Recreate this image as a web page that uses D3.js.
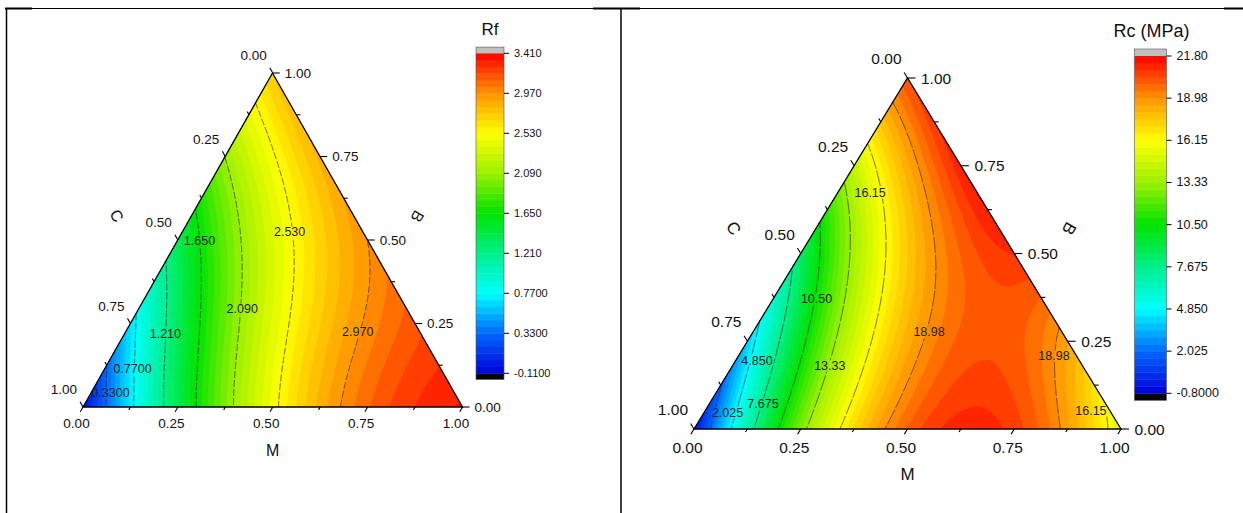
<!DOCTYPE html>
<html>
<head>
<meta charset="utf-8">
<script src="https://cdn.jsdelivr.net/npm/d3@7"></script>
<style>
  body { margin: 0; background: #fff; }
  text { font-family: Arial, "Liberation Sans", sans-serif; fill: #111; }
</style>
</head>
<body>
<svg id="chart" width="1243" height="513"></svg>
<script>
// ---------------- data ----------------
// Simplex lattice spacing used by the composition grids below.
const latticeStep = 0.125;
// Ternary axis ticks (major) and their labels.
const axisTicks = [0, 0.25, 0.5, 0.75, 1];
const axisTickLabels = ["0.00", "0.25", "0.50", "0.75", "1.00"];
const axisNames = { bottom: "M", right: "B", left: "C" };

// Rf over the lattice: row j is B = j*0.125, entry i is M = i*0.125 (C = 1 - M - B).
const rfRows = [
  [-0.05, 0.71, 1.41, 2.00, 2.48, 2.86, 3.10, 3.25, 3.35],
  [0.31, 1.06, 1.71, 2.21, 2.62, 2.97, 3.13, 3.27],
  [0.68, 1.38, 1.95, 2.38, 2.74, 3.01, 3.15],
  [1.05, 1.69, 2.15, 2.56, 2.86, 3.05],
  [1.39, 1.91, 2.36, 2.69, 2.97],
  [1.72, 2.22, 2.62, 2.91],
  [2.09, 2.51, 2.85],
  [2.46, 2.79],
  [2.75]
];
const rfLevels = [-0.11, 0.33, 0.77, 1.21, 1.65, 2.09, 2.53, 2.97, 3.41];
const rfLevelLabels = ["-0.1100", "0.3300", "0.7700", "1.210", "1.650", "2.090", "2.530", "2.970", "3.410"];
// Contour labels: [level index, M, B]
const rfContourLabels = [
  [1, 0.052, 0.041], [2, 0.074, 0.113], [3, 0.108, 0.218], [4, 0.058, 0.498],
  [5, 0.273, 0.293], [6, 0.283, 0.523], [7, 0.612, 0.224]
];

// Rc (MPa) over the same lattice.
const rcRows = [
  [-0.3, 6.88, 12.79, 17.25, 19.9, 21.0, 20.7, 18.6, 15.2],
  [1.9, 8.25, 13.84, 17.76, 19.8, 21.0, 19.4, 16.9],
  [3.91, 10.27, 14.86, 18.08, 20.2, 19.8, 18.6],
  [6.04, 11.54, 15.97, 18.98, 20.2, 19.9],
  [8.45, 13.8, 17.54, 20.3, 20.9],
  [11.3, 16.13, 19.05, 21.2],
  [14.52, 18.1, 21.3],
  [17.76, 20.8],
  [20.3]
];
const rcLevels = [-0.8, 2.025, 4.85, 7.675, 10.5, 13.325, 16.15, 18.975, 21.8];
const rcLevelLabels = ["-0.8000", "2.025", "4.850", "7.675", "10.50", "13.33", "16.15", "18.98", "21.80"];
const rcContourLabels = [
  [6, 0.076, 0.673], [4, 0.102, 0.37], [7, 0.413, 0.275], [7, 0.739, 0.208],
  [2, 0.05, 0.195], [5, 0.228, 0.18], [3, 0.126, 0.071], [1, 0.055, 0.047], [6, 0.904, 0.051]
];

// ---------------- helpers ----------------
const svg = d3.select("#chart");
svg.append("rect").attr("width", 1243).attr("height", 513).attr("fill", "#fff");

// Rainbow palette: blue -> cyan -> green -> yellow -> red
const palette = d3.scaleLinear()
  .domain([0, 0.125, 0.25, 0.375, 0.5, 0.625, 0.75, 0.875, 1])
  .range(["#0000d8", "#0068ff", "#00ffff", "#00f08c", "#00e400", "#9cf000", "#ffff00", "#ff9400", "#ff0000"])
  .interpolate(d3.interpolateRgb);

// Least-squares polynomial surface through the lattice values.
function fitSurface(rows, deg) {
  const terms = [];
  for (let p = 0; p <= deg; p++) for (let q = 0; p + q <= deg; q++) terms.push([p, q]);
  const n = terms.length;
  const A = Array.from({ length: n }, () => new Float64Array(n + 1));
  const sx = m => (m - 0.35) * 2, sy = b => (b - 0.35) * 2;
  const basis = (m, b) => {
    const x = sx(m), y = sy(b);
    return terms.map(([p, q]) => Math.pow(x, p) * Math.pow(y, q));
  };
  rows.forEach((row, j) => row.forEach((v, i) => {
    const phi = basis(i * latticeStep, j * latticeStep);
    for (let r = 0; r < n; r++) {
      for (let c = 0; c < n; c++) A[r][c] += phi[r] * phi[c];
      A[r][n] += phi[r] * v;
    }
  }));
  for (let r = 0; r < n; r++) A[r][r] += 1e-9;
  for (let col = 0; col < n; col++) {
    let piv = col;
    for (let r = col + 1; r < n; r++) if (Math.abs(A[r][col]) > Math.abs(A[piv][col])) piv = r;
    [A[col], A[piv]] = [A[piv], A[col]];
    for (let r = 0; r < n; r++) {
      if (r === col) continue;
      const f = A[r][col] / A[col][col];
      for (let c = col; c <= n; c++) A[r][c] -= f * A[col][c];
    }
  }
  const coef = A.map((row, i) => row[n] / row[i]);
  return (m, b) => {
    const x = sx(m), y = sy(b);
    let s = 0;
    for (let k = 0; k < n; k++) s += coef[k] * Math.pow(x, terms[k][0]) * Math.pow(y, terms[k][1]);
    return s;
  };
}

function drawPanel(cfg) {
  const { BL, BR, T } = cfg;
  const W = BR[0] - BL[0], H = BL[1] - T[1];
  // ternary (M, B) -> pixel
  const px = (m, b) => [BL[0] + W * (m + b / 2), BL[1] - H * b];
  const f = fitSurface(cfg.rows, cfg.degree);
  const levels = cfg.levels;
  const lo = levels[0], hi = levels[levels.length - 1];
  const nBands = 48;
  const bandT = d3.range(nBands + 1).map(k => lo + k * (hi - lo) / nBands);
  const bandColor = k => palette((k + 0.5) / nBands);

  const g = svg.append("g");
  const clipId = "clip-" + cfg.id;
  g.append("clipPath").attr("id", clipId)
    .append("polygon").attr("points", [BL, BR, T].map(p => p.join(",")).join(" "));

  // sample the surface on a pixel grid
  const x0 = Math.floor(BL[0]) - 2, y0 = Math.floor(T[1]) - 2;
  const nx = Math.ceil(BR[0]) + 3 - x0, ny = Math.ceil(BL[1]) + 3 - y0;
  const vals = new Float64Array(nx * ny);
  for (let j = 0; j < ny; j++) {
    const b = (BL[1] - (y0 + j + 0.5)) / H;
    for (let i = 0; i < nx; i++) {
      const u = (x0 + i + 0.5 - BL[0]) / W;
      vals[j * nx + i] = f(u - b / 2, b);
    }
  }
  const path = d3.geoPath(d3.geoIdentity().translate([x0, y0]));

  // filled bands
  const fills = g.append("g").attr("clip-path", `url(#${clipId})`);
  fills.append("rect").attr("x", x0).attr("y", y0).attr("width", nx).attr("height", ny).attr("fill", bandColor(0));
  const bands = d3.contours().size([nx, ny]).thresholds(bandT.slice(0, nBands))(vals);
  fills.selectAll("path.band").data(bands).join("path")
    .attr("class", "band").attr("d", path)
    .attr("fill", (d, k) => bandColor(k)).attr("stroke", (d, k) => bandColor(k)).attr("stroke-width", 0.3);

  // contour label anchors
  const labelPos = cfg.contourLabels.map(([li, m, b]) => ({ text: cfg.levelLabels[li], p: px(m, b) }));

  // mask that opens gaps in the lines under the labels
  const maskId = "mask-" + cfg.id;
  const mask = g.append("mask").attr("id", maskId);
  mask.append("rect").attr("x", 0).attr("y", 0).attr("width", 1243).attr("height", 513).attr("fill", "#fff");

  const lineLevels = levels.slice(1, -1);
  const lines = d3.contours().size([nx, ny]).thresholds(lineLevels)(vals);
  g.append("g").attr("clip-path", `url(#${clipId})`)
    .append("g").attr("mask", `url(#${maskId})`)
    .selectAll("path").data(lines).join("path")
    .attr("d", path).attr("fill", "none").attr("stroke", "#2a2a2a")
    .attr("stroke-width", 0.7).attr("stroke-dasharray", cfg.dash);

  const labG = g.append("g").attr("clip-path", `url(#${clipId})`);
  labelPos.forEach(l => {
    const t = labG.append("text").attr("x", l.p[0]).attr("y", l.p[1])
      .attr("text-anchor", "middle").attr("dominant-baseline", "central")
      .attr("font-size", cfg.contourFont).style("fill", "#222").text(l.text);
    const w = t.node().getComputedTextLength();
    mask.append("rect").attr("x", l.p[0] - w / 2 - 1).attr("y", l.p[1] - cfg.contourFont * 0.45)
      .attr("width", w + 2).attr("height", cfg.contourFont * 0.9).attr("fill", "#000");
  });

  // triangle frame
  g.append("polygon").attr("points", [BL, BR, T].map(p => p.join(",")).join(" "))
    .attr("fill", "none").attr("stroke", "#000").attr("stroke-width", 1.3).attr("stroke-linejoin", "miter");

  // ticks
  const norm = v => { const l = Math.hypot(v[0], v[1]); return [v[0] / l, v[1] / l]; };
  const dirBottom = norm([BL[0] - T[0], BL[1] - T[1]]);
  const dirLeft = norm([T[0] - BR[0], T[1] - BR[1]]);
  const dirRight = [1, 0];
  const minor = d3.range(0, 1.0001, latticeStep);
  const tk = g.append("g").attr("stroke", "#000").attr("stroke-width", 1.1);
  minor.forEach(t => {
    const isMajor = Math.abs(t * 4 - Math.round(t * 4)) < 1e-6;
    const axes = [
      { p: px(t, 0), d: dirBottom, len: isMajor ? cfg.tickLen[0] : cfg.tickLen[0] * 0.6 },
      { p: px(1 - t, t), d: dirRight, len: isMajor ? cfg.tickLen[1] : cfg.tickLen[1] * 0.55 },
      { p: px(0, 1 - t), d: dirLeft, len: isMajor ? cfg.tickLen[2] : cfg.tickLen[2] * 0.6 }
    ];
    axes.forEach(a => tk.append("line")
      .attr("x1", a.p[0]).attr("y1", a.p[1])
      .attr("x2", a.p[0] + a.d[0] * a.len).attr("y2", a.p[1] + a.d[1] * a.len));
  });

  const tl = g.append("g").attr("font-size", cfg.tickFont);
  axisTicks.forEach((t, i) => {
    const pb = px(t, 0);
    tl.append("text").attr("x", pb[0] - 6.5).attr("y", pb[1] + cfg.bottomDy)
      .attr("text-anchor", "middle").attr("dominant-baseline", "central").text(axisTickLabels[i]);
    const pr = px(1 - t, t);
    tl.append("text").attr("x", pr[0] + cfg.rightDx).attr("y", pr[1])
      .attr("text-anchor", "start").attr("dominant-baseline", "central").text(axisTickLabels[i]);
    const pl = px(0, 1 - t);
    tl.append("text").attr("x", pl[0] - 6).attr("y", pl[1] + cfg.leftDy)
      .attr("text-anchor", "end").attr("dominant-baseline", "central").text(axisTickLabels[i]);
  });

  // axis titles
  const titleG = g.append("g").attr("font-size", cfg.axisFont);
  titleG.append("text").attr("x", (BL[0] + BR[0]) / 2).attr("y", BL[1] + cfg.mDy)
    .attr("text-anchor", "middle").attr("dominant-baseline", "central").text(axisNames.bottom);
  const midL = [(BL[0] + T[0]) / 2, (BL[1] + T[1]) / 2];
  const alongL = norm([T[0] - BL[0], T[1] - BL[1]]);
  const nL = [alongL[1], -alongL[0]];
  const cPos = [midL[0] + nL[0] * cfg.cOff[0] + alongL[0] * cfg.cOff[1], midL[1] + nL[1] * cfg.cOff[0] + alongL[1] * cfg.cOff[1]];
  titleG.append("text").attr("transform", `translate(${cPos}) rotate(60)`)
    .attr("text-anchor", "middle").attr("dominant-baseline", "central").text(axisNames.left);
  const midR = [(BR[0] + T[0]) / 2, (BR[1] + T[1]) / 2];
  const alongR = norm([T[0] - BR[0], T[1] - BR[1]]);
  const nR = [-alongR[1], alongR[0]];
  const bPos = [midR[0] + nR[0] * cfg.bOff[0] + alongR[0] * cfg.bOff[1], midR[1] + nR[1] * cfg.bOff[0] + alongR[1] * cfg.bOff[1]];
  titleG.append("text").attr("transform", `translate(${bPos}) rotate(120)`)
    .attr("text-anchor", "middle").attr("dominant-baseline", "central").text(axisNames.right);

  // colour bar
  const cb = cfg.cbar;
  const yScale = d3.scaleLinear().domain([lo, hi]).range([cb.bottom, cb.top]);
  const cg = g.append("g");
  cg.append("rect").attr("x", cb.x).attr("y", cb.top - cb.cap).attr("width", cb.w).attr("height", cb.cap).attr("fill", "#c0c0c0");
  cg.append("rect").attr("x", cb.x).attr("y", cb.bottom).attr("width", cb.w).attr("height", cb.cap).attr("fill", "#050505");
  d3.range(nBands).forEach(k => {
    cg.append("rect").attr("x", cb.x).attr("y", yScale(bandT[k + 1]))
      .attr("width", cb.w).attr("height", yScale(bandT[k]) - yScale(bandT[k + 1]) + 0.4)
      .attr("fill", bandColor(k));
  });
  cg.append("rect").attr("x", cb.x).attr("y", cb.top - cb.cap).attr("width", cb.w)
    .attr("height", cb.bottom - cb.top + 2 * cb.cap).attr("fill", "none").attr("stroke", "#555").attr("stroke-width", 0.6);
  levels.forEach((lv, i) => {
    const y = yScale(lv);
    cg.append("line").attr("x1", cb.x + cb.w).attr("x2", cb.x + cb.w + 5).attr("y1", y).attr("y2", y)
      .attr("stroke", "#000").attr("stroke-width", 1);
    cg.append("text").attr("x", cb.x + cb.w + 10).attr("y", y).attr("dominant-baseline", "central")
      .attr("font-size", cb.font).text(cfg.levelLabels[i]);
  });
  cg.append("text").attr("x", cb.x + cb.w / 2 + cb.titleDx).attr("y", cb.titleY)
    .attr("text-anchor", "middle").attr("font-size", cb.titleFont).text(cfg.title);
}

// ---------------- page frame ----------------
const frame = svg.append("g").attr("stroke", "#000");
frame.append("line").attr("x1", 5).attr("x2", 1243).attr("y1", 8.5).attr("y2", 8.5).attr("stroke-width", 1);
[[5, 32], [593, 640], [1224, 1243]].forEach(([a, b]) =>
  frame.append("line").attr("x1", a).attr("x2", b).attr("y1", 8.5).attr("y2", 8.5).attr("stroke-width", 2));
frame.append("line").attr("x1", 6.5).attr("x2", 6.5).attr("y1", 8).attr("y2", 513).attr("stroke-width", 1.5);
frame.append("line").attr("x1", 621).attr("x2", 621).attr("y1", 8).attr("y2", 513).attr("stroke-width", 1.5);

// ---------------- panels ----------------
drawPanel({
  id: "rf", BL: [83, 407], BR: [462.5, 407], T: [272.5, 73],
  rows: rfRows, degree: 4, levels: rfLevels, levelLabels: rfLevelLabels, contourLabels: rfContourLabels,
  dash: "7,2", contourFont: 12.5, tickFont: 13.5, axisFont: 16,
  tickLen: [5.5, 7, 6], bottomDy: 16, rightDx: 12, leftDy: -17.5, mDy: 43,
  cOff: [65, -9], bOff: [55, -4],
  title: "Rf",
  cbar: { x: 476, w: 28, top: 53.3, bottom: 373.3, cap: 6.2, font: 11, titleFont: 17, titleY: 35, titleDx: 0 }
});
drawPanel({
  id: "rc", BL: [694, 429], BR: [1121, 429], T: [907.5, 78],
  rows: rcRows, degree: 5, levels: rcLevels, levelLabels: rcLevelLabels, contourLabels: rcContourLabels,
  dash: "16,2", contourFont: 12.5, tickFont: 15.5, axisFont: 17,
  tickLen: [6, 8, 6.5], bottomDy: 18.5, rightDx: 13.5, leftDy: -19.5, mDy: 45,
  cOff: [70.7, -13.6], bOff: [59.7, -6.9],
  title: "Rc (MPa)",
  cbar: { x: 1134.5, w: 32, top: 56, bottom: 393.3, cap: 7, font: 12.5, titleFont: 18, titleY: 37, titleDx: 1 }
});
</script>
</body>
</html>
